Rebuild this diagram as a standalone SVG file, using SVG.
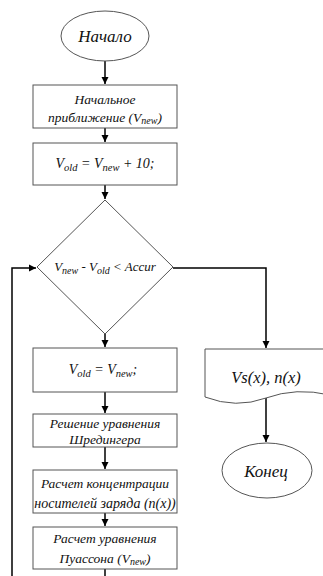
<svg xmlns="http://www.w3.org/2000/svg" width="323" height="576" viewBox="0 0 323 576">
<defs>
<marker id="ah" markerUnits="userSpaceOnUse" markerWidth="8" markerHeight="8" refX="7" refY="4" orient="auto">
<path d="M0,0.5 L7,4 L0,7.5 Z" fill="#000"/>
</marker>
<style>
.sh{fill:#fff;stroke:#555;stroke-width:1}
.t{font-family:'Liberation Serif','DejaVu Serif',serif;font-style:italic;fill:#111;text-anchor:middle}
.c{fill:none;stroke:#000;stroke-width:1.5}
</style>
</defs>
<rect width="323" height="576" fill="#fff"/>
<g id="connectors">
<path class="c" d="M105,61 L105,84" marker-end="url(#ah)"/>
<path class="c" d="M105,128 L105,142" marker-end="url(#ah)"/>
<path class="c" d="M105,185 L105,199" marker-end="url(#ah)"/>
<path class="c" d="M105,334 L105,347" marker-end="url(#ah)"/>
<path class="c" d="M105,392 L105,413" marker-end="url(#ah)"/>
<path class="c" d="M105,447 L105,469" marker-end="url(#ah)"/>
<path class="c" d="M105,513 L105,526" marker-end="url(#ah)"/>
<path class="c" d="M105,569 L105,576"/>
<path class="c" d="M12,576 L12,268 L36,268" marker-end="url(#ah)"/>
<path class="c" d="M173,268 L266,268 L266,348" marker-end="url(#ah)"/>
<path class="c" d="M266,398 L266,442" marker-end="url(#ah)"/>
</g>
<g id="start">
<ellipse class="sh" cx="105" cy="36" rx="44" ry="25"/>
<text class="t" x="105" y="42" font-size="17">Начало</text>
</g>
<g id="init">
<rect class="sh" x="33" y="85" width="144" height="43"/>
<text class="t" x="105" y="104" font-size="13.5">Начальное</text>
<text class="t" x="105" y="122" font-size="13.5">приближение (V<tspan font-size="10" dy="2">new</tspan><tspan dy="-2">)</tspan></text>
</g>
<g id="vold10">
<rect class="sh" x="33" y="143" width="144" height="42"/>
<text class="t" x="105" y="168" font-size="14">V<tspan font-size="10.5" dy="3">old</tspan><tspan dy="-3"> = V</tspan><tspan font-size="10.5" dy="3">new</tspan><tspan dy="-3"> + 10;</tspan></text>
</g>
<g id="cond">
<path class="sh" d="M105,200 L173,267 L105,334 L37,267 Z"/>
<text class="t" x="105" y="271" font-size="13">V<tspan font-size="10" dy="3">new</tspan><tspan dy="-3"> - V</tspan><tspan font-size="10" dy="3">old</tspan><tspan dy="-3"> &lt; Accur</tspan></text>
</g>
<g id="assign">
<rect class="sh" x="33" y="348" width="144" height="44"/>
<text class="t" x="103" y="374" font-size="14">V<tspan font-size="10.5" dy="3">old</tspan><tspan dy="-3"> = V</tspan><tspan font-size="10.5" dy="3">new</tspan><tspan dy="-3">;</tspan></text>
</g>
<g id="schrod">
<rect class="sh" x="33" y="414" width="144" height="33"/>
<text class="t" x="105" y="428" font-size="13.5">Решение уравнения</text>
<text class="t" x="105" y="444" font-size="13.5">Шредингера</text>
</g>
<g id="conc">
<rect class="sh" x="33" y="470" width="144" height="43"/>
<text class="t" x="105" y="488" font-size="13.5">Расчет концентрации</text>
<text class="t" x="105" y="508" font-size="14">носителей заряда (n(x))</text>
</g>
<g id="poisson">
<rect class="sh" x="33" y="527" width="144" height="42"/>
<text class="t" x="105" y="543" font-size="13.5">Расчет уравнения</text>
<text class="t" x="105" y="563" font-size="13.5">Пуассона (V<tspan font-size="10" dy="2">new</tspan><tspan dy="-2">)</tspan></text>
</g>
<g id="output">
<path class="sh" d="M205,349 L330,349 L330,395 Q296,387 266,398 Q236,409 205,397 Z"/>
<text class="t" x="266" y="383" font-size="16.5">Vs(x), n(x)</text>
</g>
<g id="end">
<ellipse class="sh" cx="267" cy="470.5" rx="45" ry="27.5"/>
<text class="t" x="266" y="477" font-size="17">Конец</text>
</g>
</svg>
